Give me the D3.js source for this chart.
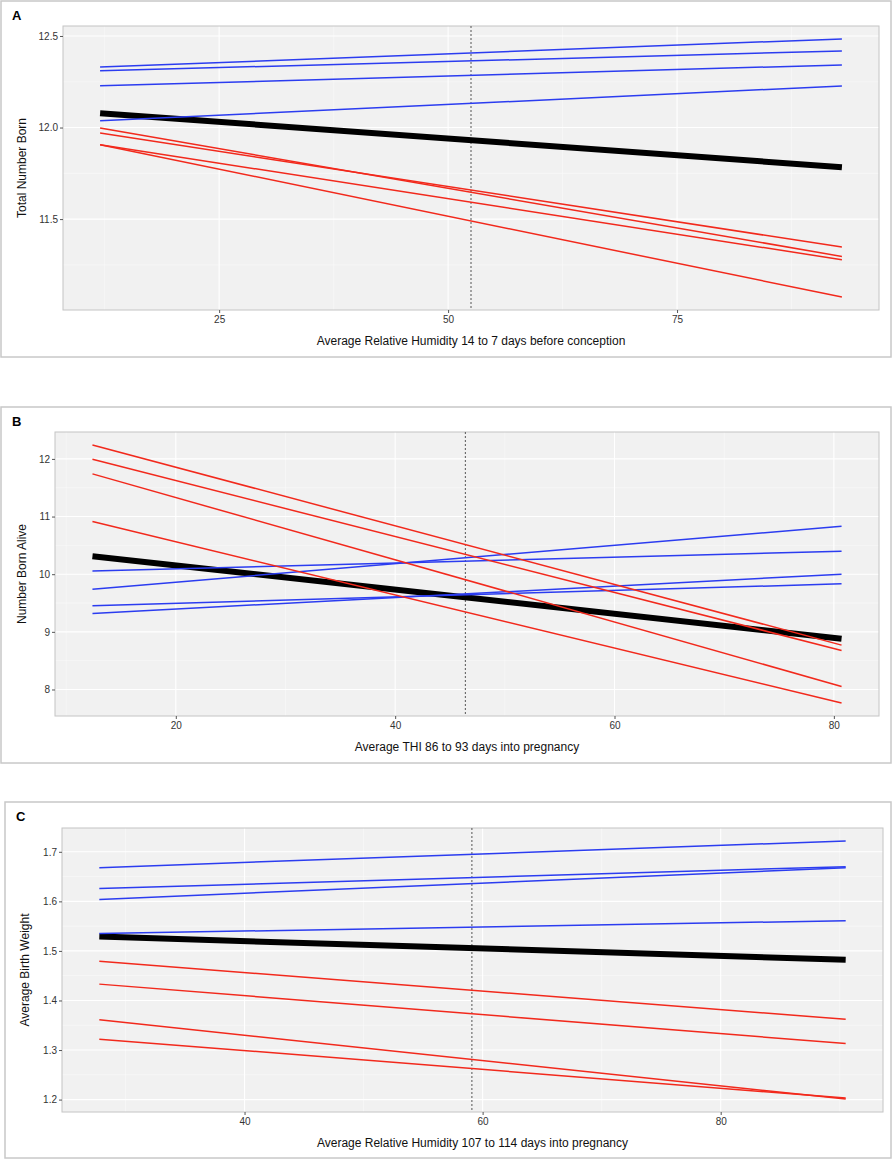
<!DOCTYPE html>
<html>
<head>
<meta charset="utf-8">
<script src="https://cdn.jsdelivr.net/npm/d3@7"></script>
<style>
  body { margin: 0; background: #fff; }
  text { font-family: "Liberation Sans", Arial, sans-serif; }
</style>
</head>
<body>
<script>
// Panel A - total number born vs humidity before conception
var humidityConceptionX = [12, 93];
var tnbHigh = [[12.33, 12.484], [12.31, 12.418], [12.228, 12.342], [12.037, 12.227]];
var tnbLow = [[11.997, 11.296], [11.97, 11.347], [11.906, 11.278], [11.906, 11.074]];
var tnbMean = [12.078, 11.783];
var tnbThreshold = 52.5;
var tnbXTicks = [25, 50, 75];
var tnbYTicks = [11.5, 12.0, 12.5];

// Panel B - number born alive vs THI
var thiPregnancyX = [12.4, 80.7];
var nbaHigh = [[10.055, 10.399], [9.74, 10.832], [9.452, 9.833], [9.32, 10.0]];
var nbaLow = [[12.243, 8.77], [11.993, 8.678], [11.74, 8.053], [10.913, 7.764]];
var nbaMean = [10.312, 8.88];
var nbaThreshold = 46.4;
var nbaXTicks = [20, 40, 60, 80];
var nbaYTicks = [8, 9, 10, 11, 12];

// Panel C - average birth weight vs humidity in pregnancy
var humidityPregnancyX = [27.8, 90.5];
var abwHigh = [[1.668, 1.722], [1.626, 1.67], [1.604, 1.668], [1.535, 1.561]];
var abwLow = [[1.479, 1.362], [1.433, 1.313], [1.361, 1.201], [1.322, 1.203]];
var abwMean = [1.529, 1.482];
var abwThreshold = 59.1;
var abwXTicks = [40, 60, 80];
var abwYTicks = [1.2, 1.3, 1.4, 1.5, 1.6, 1.7];

var panels = [
    {letter: "A", box: [1, 1, 890, 356], plot: {l: 63, t: 26, r: 879, b: 310},
     xs: humidityConceptionX, high: tnbHigh, low: tnbLow, mean: tnbMean, vline: tnbThreshold,
     xTicks: tnbXTicks, yTicks: tnbYTicks, yFmt: ".1f",
     xTitle: "Average Relative Humidity 14 to 7 days before conception", yTitle: "Total Number Born", yTitleX: 22},
    {letter: "B", box: [1, 407, 890, 356], plot: {l: 55, t: 432, r: 879, b: 716},
     xs: thiPregnancyX, high: nbaHigh, low: nbaLow, mean: nbaMean, vline: nbaThreshold,
     xTicks: nbaXTicks, yTicks: nbaYTicks, yFmt: "d",
     xTitle: "Average THI 86 to 93 days into pregnancy", yTitle: "Number Born Alive", yTitleX: 22},
    {letter: "C", box: [5, 802, 886, 356], plot: {l: 62, t: 828, r: 883, b: 1112},
     xs: humidityPregnancyX, high: abwHigh, low: abwLow, mean: abwMean, vline: abwThreshold,
     xTicks: abwXTicks, yTicks: abwYTicks, yFmt: ".1f",
     xTitle: "Average Relative Humidity 107 to 114 days into pregnancy", yTitle: "Average Birth Weight", yTitleX: 25}
];

var svg = d3.select("body")
    .append("svg")
        .attr("width", 892)
        .attr("height", 1159);

// ggplot-ish 5% expansion
function expand(ext) {
    var pad = (ext[1] - ext[0]) * 0.05;
    return [ext[0] - pad, ext[1] + pad];
}

function minorTicks(major, domain) {
    var step = major[1] - major[0];
    var out = [];
    for (var i = -1; i < major.length; i++) {
        var m = (i < 0 ? major[0] - step : major[i]) + step / 2;
        if (m > domain[0] && m < domain[1]) out.push(m);
    }
    return out;
}

panels.forEach(function(p) {
    var g = svg.append("g");
    var P = p.plot;

    g.append("rect")
        .attr("x", p.box[0]).attr("y", p.box[1])
        .attr("width", p.box[2]).attr("height", p.box[3])
        .attr("fill", "none")
        .attr("stroke", "#c8c8c8")
        .attr("stroke-width", 1.5);

    g.append("text")
        .attr("x", p.box[0] + 11)
        .attr("y", p.box[1] + 19)
        .attr("font-size", 13)
        .attr("font-weight", "bold")
        .text(p.letter);

    var allY = p.mean.slice();
    p.high.concat(p.low).forEach(function(d) { allY = allY.concat(d); });

    var x = d3.scaleLinear().domain(expand(p.xs)).range([P.l, P.r]);
    var y = d3.scaleLinear().domain(expand(d3.extent(allY))).range([P.b, P.t]);

    g.append("rect")
        .attr("x", P.l).attr("y", P.t)
        .attr("width", P.r - P.l).attr("height", P.b - P.t)
        .attr("fill", "#f1f1f1");

    // grid
    g.selectAll("line.xminor").data(minorTicks(p.xTicks, x.domain())).enter()
        .append("line")
            .attr("x1", d => x(d)).attr("x2", d => x(d))
            .attr("y1", P.t).attr("y2", P.b)
            .attr("stroke", "#fafafa").attr("stroke-width", 0.6);
    g.selectAll("line.yminor").data(minorTicks(p.yTicks, y.domain())).enter()
        .append("line")
            .attr("x1", P.l).attr("x2", P.r)
            .attr("y1", d => y(d)).attr("y2", d => y(d))
            .attr("stroke", "#fafafa").attr("stroke-width", 0.6);
    g.selectAll("line.xmajor").data(p.xTicks).enter()
        .append("line")
            .attr("x1", d => x(d)).attr("x2", d => x(d))
            .attr("y1", P.t).attr("y2", P.b)
            .attr("stroke", "#fff").attr("stroke-width", 1.1);
    g.selectAll("line.ymajor").data(p.yTicks).enter()
        .append("line")
            .attr("x1", P.l).attr("x2", P.r)
            .attr("y1", d => y(d)).attr("y2", d => y(d))
            .attr("stroke", "#fff").attr("stroke-width", 1.1);

    g.append("rect")
        .attr("x", P.l).attr("y", P.t)
        .attr("width", P.r - P.l).attr("height", P.b - P.t)
        .attr("fill", "none")
        .attr("stroke", "#c4c4c4").attr("stroke-width", 1);

    g.append("line")
        .attr("x1", x(p.vline)).attr("x2", x(p.vline))
        .attr("y1", P.t).attr("y2", P.b)
        .attr("stroke", "#555").attr("stroke-width", 1)
        .attr("stroke-dasharray", "2,2");

    var seg = function(d) {
        return d3.line()([[x(p.xs[0]), y(d[0])], [x(p.xs[1]), y(d[1])]]);
    };

    g.append("path")
        .attr("d", seg(p.mean))
        .attr("fill", "none")
        .attr("stroke", "#000")
        .attr("stroke-width", 6);

    g.selectAll("path.high").data(p.high).enter()
        .append("path")
            .attr("d", seg)
            .attr("fill", "none")
            .attr("stroke", "#2b3cf0")
            .attr("stroke-width", 1.5);

    g.selectAll("path.low").data(p.low).enter()
        .append("path")
            .attr("d", seg)
            .attr("fill", "none")
            .attr("stroke", "#f2291c")
            .attr("stroke-width", 1.5);

    // axes
    var xAxis = g.append("g")
        .attr("transform", "translate(0," + P.b + ")")
        .call(d3.axisBottom(x).tickValues(p.xTicks).tickSize(3).tickPadding(3).tickSizeOuter(0));
    var yAxis = g.append("g")
        .attr("transform", "translate(" + P.l + ",0)")
        .call(d3.axisLeft(y).tickValues(p.yTicks).tickFormat(d3.format(p.yFmt)).tickSize(3).tickPadding(2).tickSizeOuter(0));
    [xAxis, yAxis].forEach(function(a) {
        a.select(".domain").remove();
        a.selectAll(".tick line").attr("stroke", "#555");
        a.selectAll(".tick text")
            .attr("font-family", "Liberation Sans, Arial, sans-serif")
            .attr("font-size", 10)
            .attr("fill", "#333");
    });

    g.append("text")
        .attr("x", (P.l + P.r) / 2)
        .attr("y", P.b + 35)
        .attr("text-anchor", "middle")
        .attr("font-size", 12)
        .attr("fill", "#111")
        .text(p.xTitle);

    g.append("text")
        .attr("transform", "translate(" + p.yTitleX + "," + (P.t + P.b) / 2 + ") rotate(-90)")
        .attr("text-anchor", "middle")
        .attr("dominant-baseline", "central")
        .attr("font-size", 12)
        .attr("fill", "#111")
        .text(p.yTitle);
});
</script>
</body>
</html>
